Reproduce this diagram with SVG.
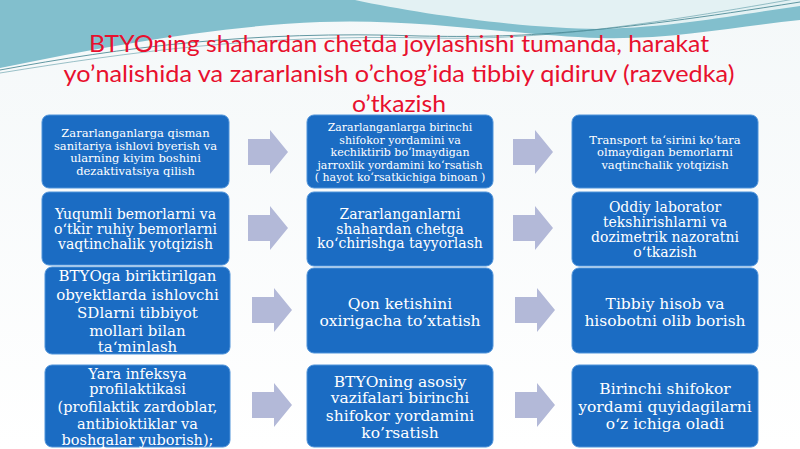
<svg xmlns="http://www.w3.org/2000/svg" width="800" height="449" viewBox="0 0 800 449">
<style>
.box{fill:#1b6cc3;stroke:#4f93da;stroke-width:1}
.t{font-family:"DejaVu Serif","Liberation Serif",serif;fill:#ffffff;text-anchor:middle}
.title{font-family:Lato,"Open Sans",sans-serif;font-size:24px;fill:#e8102e;text-anchor:middle}
.arr{fill:#b3b9d8}
</style>
<defs>
<linearGradient id="bg" x1="0" y1="0" x2="0" y2="1">
<stop offset="0" stop-color="#f4f8f9"/>
<stop offset="1" stop-color="#ffffff"/>
</linearGradient>
<path id="arrow" d="M-20,-13 L2,-13 L2,-22 L20,0 L2,22 L2,13 L-20,13 Z"/>
</defs>
<rect x="0" y="0" width="800" height="449" fill="url(#bg)"/>
<g id="background">
<path d="M0,0 L800,0 L800,20 C740,26 670,40 600,38 C520,36 420,18 320,22 C220,26 110,45 0,68 Z" fill="#82bfcd"/>
<path d="M355,0 C420,14 520,28 600,29 C680,27 740,14 800,6 L800,0 Z" fill="#e3f1f3"/>
<path d="M0,70 C120,48 250,30 420,36 C520,38 600,34 800,2" fill="none" stroke="#3c7f8c" stroke-width="0.8"/>
<path d="M0,73 C130,52 260,34 430,38 C530,40 620,30 800,-2" fill="none" stroke="#5a98a4" stroke-width="0.6"/>
</g>
<g id="title">
<text class="title" x="399" y="52" textLength="620" lengthAdjust="spacingAndGlyphs">BTYOning shahardan chetda joylashishi tumanda, harakat</text>
<text class="title" x="399" y="82" textLength="671" lengthAdjust="spacingAndGlyphs">yo’nalishida va zararlanish o’chog’ida tibbiy qidiruv (razvedka)</text>
<text class="title" x="399" y="112" textLength="94" lengthAdjust="spacingAndGlyphs">o’tkazish</text>
</g>
<g id="connectors">
<use href="#arrow" class="arr" x="268" y="152"/>
<use href="#arrow" class="arr" x="268" y="228"/>
<use href="#arrow" class="arr" x="272" y="310"/>
<use href="#arrow" class="arr" x="272" y="405"/>
<use href="#arrow" class="arr" x="533" y="152"/>
<use href="#arrow" class="arr" x="533" y="228"/>
<use href="#arrow" class="arr" x="535" y="310"/>
<use href="#arrow" class="arr" x="535" y="405"/>
</g>
<g id="node-a">
<rect class="box" x="42" y="115" width="187" height="73" rx="7"/>
<text class="t" font-size="11.5"><tspan x="135.5" y="137">Zararlanganlarga qisman</tspan><tspan x="135.5" y="149.5">sanitariya ishlovi byerish va</tspan><tspan x="135.5" y="162">ularning kiyim boshini</tspan><tspan x="135.5" y="174.5">dezaktivatsiya qilish</tspan></text>
</g>
<g id="node-b">
<rect class="box" x="42" y="192" width="187" height="73" rx="7"/>
<text class="t" font-size="14"><tspan x="135.5" y="219">Yuqumli bemorlarni va</tspan><tspan x="135.5" y="234">o‘tkir ruhiy bemorlarni</tspan><tspan x="135.5" y="248.5">vaqtinchalik yotqizish</tspan></text>
</g>
<g id="node-c">
<rect class="box" x="45" y="267" width="185" height="87" rx="7"/>
<text class="t" font-size="15"><tspan x="137.5" y="281">BTYOga biriktirilgan</tspan><tspan x="137.5" y="299.5">obyektlarda ishlovchi</tspan><tspan x="137.5" y="318">SDlarni tibbiyot</tspan><tspan x="137.5" y="336">mollari bilan</tspan><tspan x="137.5" y="352">ta‘minlash</tspan></text>
</g>
<g id="node-d">
<rect class="box" x="45" y="365" width="185" height="82" rx="7"/>
<text class="t" font-size="14.5"><tspan x="137.5" y="378.5">Yara infeksya</tspan><tspan x="137.5" y="394">profilaktikasi</tspan><tspan x="137.5" y="411.5">(profilaktik zardoblar,</tspan><tspan x="137.5" y="428.5">antibioktiklar va</tspan><tspan x="137.5" y="445">boshqalar yuborish);</tspan></text>
</g>
<g id="node-e">
<rect class="box" x="307" y="115" width="186" height="73" rx="7"/>
<text class="t" font-size="11"><tspan x="400" y="131">Zararlanganlarga birinchi</tspan><tspan x="400" y="143.5">shifokor yordamini va</tspan><tspan x="400" y="156">kechiktirib bo‘lmaydigan</tspan><tspan x="400" y="168.5">jarroxlik yordamini ko‘rsatish</tspan><tspan x="400" y="181">( hayot ko‘rsatkichiga binoan )</tspan></text>
</g>
<g id="node-f">
<rect class="box" x="307" y="192" width="186" height="74" rx="7"/>
<text class="t" font-size="14"><tspan x="400" y="219">Zararlanganlarni</tspan><tspan x="400" y="233.5">shahardan chetga</tspan><tspan x="400" y="248">ko‘chirishga tayyorlash</tspan></text>
</g>
<g id="node-g">
<rect class="box" x="307" y="268" width="186" height="85" rx="7"/>
<text class="t" font-size="15.5"><tspan x="400" y="308.5">Qon ketishini</tspan><tspan x="400" y="326">oxirigacha to’xtatish</tspan></text>
</g>
<g id="node-h">
<rect class="box" x="307" y="365" width="186" height="82" rx="7"/>
<text class="t" font-size="15.5"><tspan x="400" y="386.5">BTYOning asosiy</tspan><tspan x="400" y="403">vazifalari birinchi</tspan><tspan x="400" y="421">shifokor yordamini</tspan><tspan x="400" y="437.5">ko’rsatish</tspan></text>
</g>
<g id="node-i">
<rect class="box" x="572" y="115" width="186" height="73" rx="7"/>
<text class="t" font-size="11.5"><tspan x="665" y="143.5">Transport ta‘sirini ko‘tara</tspan><tspan x="665" y="156">olmaydigan bemorlarni</tspan><tspan x="665" y="168.5">vaqtinchalik yotqizish</tspan></text>
</g>
<g id="node-j">
<rect class="box" x="572" y="192" width="186" height="74" rx="7"/>
<text class="t" font-size="14"><tspan x="665" y="212">Oddiy laborator</tspan><tspan x="665" y="226.5">tekshirishlarni va</tspan><tspan x="665" y="242">dozimetrik nazoratni</tspan><tspan x="665" y="257">o‘tkazish</tspan></text>
</g>
<g id="node-k">
<rect class="box" x="572" y="268" width="186" height="85" rx="7"/>
<text class="t" font-size="15.5"><tspan x="665" y="309">Tibbiy hisob va</tspan><tspan x="665" y="326">hisobotni olib borish</tspan></text>
</g>
<g id="node-l">
<rect class="box" x="572" y="365" width="186" height="82" rx="7"/>
<text class="t" font-size="15.5"><tspan x="665" y="394">Birinchi shifokor</tspan><tspan x="665" y="412">yordami quyidagilarni</tspan><tspan x="665" y="429">o‘z ichiga oladi</tspan></text>
</g>
</svg>
